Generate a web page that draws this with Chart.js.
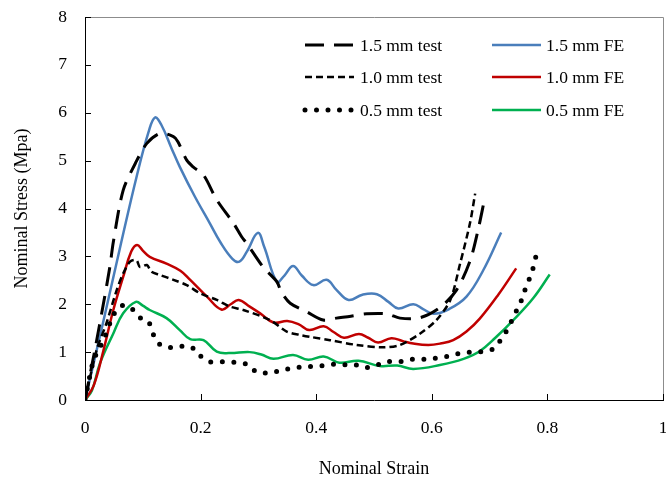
<!DOCTYPE html>
<html>
<head>
<meta charset="utf-8">
<title>Nominal stress vs nominal strain</title>
<script src="https://cdn.jsdelivr.net/npm/chart.js@4.4.1/dist/chart.umd.min.js"></script>
<style>
  html, body { margin: 0; padding: 0; background: #fff; }
  #wrap { width: 666px; height: 490px; }
</style>
</head>
<body>
<div id="wrap"><canvas id="stressChart" width="666" height="490"></canvas></div>
<script>
// measured curves (strain / stress pairs)
const test15Strain = [0, 0.017, 0.032, 0.043, 0.049, 0.066, 0.087, 0.107, 0.13, 0.153, 0.161, 0.176, 0.187, 0.205, 0.228, 0.257, 0.271, 0.28, 0.308, 0.332, 0.34, 0.355, 0.384, 0.412, 0.435, 0.46, 0.487, 0.522, 0.545, 0.58, 0.614, 0.643, 0.666, 0.68, 0.691];
const test15Stress = [0, 1.04, 2.02, 2.78, 3.3, 4.38, 4.94, 5.36, 5.57, 5.5, 5.39, 5.01, 4.87, 4.7, 4.18, 3.69, 3.41, 3.27, 2.78, 2.47, 2.25, 2.02, 1.84, 1.67, 1.71, 1.75, 1.8, 1.8, 1.71, 1.72, 1.93, 2.3, 2.9, 3.55, 4.18];

const test10Strain = [0, 0.02, 0.037, 0.055, 0.066, 0.078, 0.089, 0.095, 0.107, 0.115, 0.13, 0.153, 0.176, 0.199, 0.228, 0.251, 0.274, 0.32, 0.349, 0.372, 0.389, 0.424, 0.47, 0.516, 0.545, 0.58, 0.608, 0.632, 0.649, 0.666, 0.675];
const test10Stress = [0, 1.04, 1.6, 2.3, 2.64, 2.89, 2.92, 2.78, 2.82, 2.68, 2.61, 2.51, 2.4, 2.23, 2.09, 1.95, 1.88, 1.67, 1.43, 1.36, 1.32, 1.25, 1.15, 1.1, 1.15, 1.39, 1.67, 2.09, 2.85, 3.69, 4.31];

const test05Strain = [0, 0.014, 0.023, 0.032, 0.049, 0.061, 0.072, 0.087, 0.098, 0.11, 0.117, 0.124, 0.138, 0.157, 0.176, 0.192, 0.198, 0.213, 0.227, 0.245, 0.265, 0.284, 0.294, 0.308, 0.323, 0.34, 0.36, 0.381, 0.401, 0.418, 0.435, 0.454, 0.47, 0.487, 0.505, 0.522, 0.545, 0.565, 0.585, 0.603, 0.623, 0.642, 0.66, 0.678, 0.694, 0.709, 0.721, 0.732, 0.741, 0.75, 0.758, 0.764, 0.773, 0.777, 0.783];
const test05Stress = [0, 0.8, 1.04, 1.25, 1.77, 1.95, 1.98, 1.84, 1.69, 1.63, 1.41, 1.22, 1.11, 1.1, 1.13, 1.04, 0.94, 0.81, 0.79, 0.8, 0.78, 0.73, 0.61, 0.57, 0.56, 0.63, 0.66, 0.7, 0.7, 0.73, 0.75, 0.73, 0.73, 0.68, 0.73, 0.8, 0.8, 0.85, 0.85, 0.87, 0.9, 0.96, 0.99, 1.01, 1.01, 1.09, 1.29, 1.5, 1.73, 1.95, 2.17, 2.41, 2.64, 2.87, 3.1];

// finite element curves
const fe15Strain = [0, 0.03, 0.06, 0.09, 0.11, 0.121, 0.132, 0.15, 0.164, 0.19, 0.216, 0.234, 0.255, 0.267, 0.28, 0.299, 0.31, 0.332, 0.345, 0.36, 0.375, 0.395, 0.418, 0.435, 0.456, 0.48, 0.505, 0.525, 0.542, 0.568, 0.585, 0.603, 0.63, 0.66, 0.689, 0.72];
const fe15Stress = [0, 1.55, 3.15, 4.7, 5.6, 5.9, 5.75, 5.25, 4.87, 4.25, 3.69, 3.3, 2.95, 2.89, 3.1, 3.49, 3.2, 2.47, 2.6, 2.8, 2.6, 2.4, 2.51, 2.3, 2.09, 2.2, 2.21, 2.05, 1.91, 2.0, 1.9, 1.8, 1.9, 2.16, 2.71, 3.5];

const fe10Strain = [0, 0.015, 0.032, 0.049, 0.066, 0.08, 0.09, 0.1, 0.112, 0.141, 0.165, 0.182, 0.211, 0.236, 0.252, 0.266, 0.285, 0.303, 0.326, 0.35, 0.37, 0.388, 0.413, 0.43, 0.448, 0.474, 0.49, 0.507, 0.53, 0.55, 0.568, 0.594, 0.615, 0.637, 0.66, 0.683, 0.715, 0.746];
const fe10Stress = [0, 0.3, 1.04, 1.88, 2.57, 3.1, 3.24, 3.12, 2.99, 2.85, 2.7, 2.51, 2.16, 1.89, 2.0, 2.09, 1.95, 1.81, 1.62, 1.65, 1.58, 1.46, 1.54, 1.42, 1.3, 1.38, 1.3, 1.2, 1.29, 1.23, 1.18, 1.15, 1.18, 1.25, 1.43, 1.7, 2.2, 2.75];

const fe05Strain = [0, 0.012, 0.026, 0.049, 0.066, 0.088, 0.1, 0.112, 0.141, 0.164, 0.182, 0.205, 0.228, 0.25, 0.285, 0.305, 0.326, 0.36, 0.386, 0.413, 0.44, 0.473, 0.51, 0.54, 0.568, 0.614, 0.655, 0.683, 0.71, 0.741, 0.775, 0.804];
const fe05Stress = [0, 0.2, 0.77, 1.39, 1.81, 2.05, 1.97, 1.88, 1.71, 1.46, 1.27, 1.25, 1.01, 0.98, 1.0, 0.95, 0.86, 0.94, 0.84, 0.91, 0.78, 0.82, 0.71, 0.72, 0.65, 0.73, 0.86, 1.02, 1.3, 1.67, 2.12, 2.62];

const seriesLabels = ['1.5 mm test', '1.0 mm test', '0.5 mm test', '1.5 mm FE', '1.0 mm FE', '0.5 mm FE'];

const xTicks = [0, 0.2, 0.4, 0.6, 0.8, 1];
const yTicks = [0, 1, 2, 3, 4, 5, 6, 7, 8];

const serif = '"Liberation Serif", "Times New Roman", serif';

function pairs(xs, ys) {
    return xs.map((x, i) => ({ x: x, y: ys[i] }));
}

function line(label, xs, ys, style) {
    return Object.assign({
        label: label,
        data: pairs(xs, ys),
        showLine: true,
        pointRadius: 0,
        pointHoverRadius: 0,
        fill: false,
        tension: 0.4,
        borderColor: '#000',
        backgroundColor: '#000'
    }, style);
}

const datasets = [
    line(seriesLabels[0], test15Strain, test15Stress, { borderWidth: 3, borderDash: [19, 10], tension: 0.3 }),
    line(seriesLabels[1], test10Strain, test10Stress, { borderWidth: 2.5, borderDash: [7, 4], tension: 0.3 }),
    line(seriesLabels[2], test05Strain, test05Stress, { borderWidth: 5, borderDash: [0, 11.5], borderCapStyle: 'round', tension: 0.3 }),
    line(seriesLabels[3], fe15Strain, fe15Stress, { borderWidth: 2.5, borderColor: '#4a7ebb' }),
    line(seriesLabels[4], fe10Strain, fe10Stress, { borderWidth: 2.5, borderColor: '#c00000' }),
    line(seriesLabels[5], fe05Strain, fe05Stress, { borderWidth: 2.5, borderColor: '#00b050' })
];

// gray frame on top/right and inward tick marks
const framePlugin = {
    id: 'frame',
    afterDatasetsDraw(chart) {
        const { ctx, chartArea: a, scales } = chart;
        ctx.save();
        ctx.strokeStyle = '#8c8c8c';
        ctx.lineWidth = 1;
        ctx.beginPath();
        ctx.moveTo(a.left, a.top + 0.5);
        ctx.lineTo(a.right + 0.5, a.top + 0.5);
        ctx.lineTo(a.right + 0.5, a.bottom);
        ctx.stroke();

        ctx.strokeStyle = '#000';
        ctx.beginPath();
        xTicks.forEach(v => {
            const px = Math.round(scales.x.getPixelForValue(v)) + 0.5;
            ctx.moveTo(px, a.bottom);
            ctx.lineTo(px, a.bottom - 6);
        });
        yTicks.forEach(v => {
            const py = Math.round(scales.y.getPixelForValue(v)) + 0.5;
            ctx.moveTo(a.left, py);
            ctx.lineTo(a.left + 6, py);
        });
        ctx.stroke();
        ctx.restore();
    }
};

// two-column legend inside the plot
const legendPlugin = {
    id: 'innerLegend',
    afterDraw(chart) {
        const { ctx } = chart;
        const cols = [{ x0: 305, x1: 354, tx: 360 }, { x0: 492, x1: 541, tx: 546 }];
        const rows = [45, 77, 110];
        ctx.save();
        chart.data.datasets.forEach((ds, i) => {
            const c = cols[i < 3 ? 0 : 1];
            const y = rows[i % 3];
            ctx.strokeStyle = ds.borderColor;
            ctx.lineWidth = ds.borderWidth;
            ctx.lineCap = ds.borderCapStyle || 'butt';
            ctx.setLineDash(ds.borderDash || []);
            ctx.beginPath();
            ctx.moveTo(c.x0, y);
            ctx.lineTo(c.x1, y);
            ctx.stroke();
            ctx.setLineDash([]);
            ctx.fillStyle = '#000';
            ctx.font = '17.5px ' + serif;
            ctx.textBaseline = 'middle';
            ctx.textAlign = 'left';
            ctx.fillText(ds.label, c.tx, y + 1);
        });
        ctx.restore();
    }
};

new Chart(document.getElementById('stressChart'), {
    type: 'scatter',
    data: { datasets: datasets },
    options: {
        responsive: false,
        devicePixelRatio: 1,
        animation: false,
        layout: { padding: { top: 17, right: 3, left: 0, bottom: 0 } },
        plugins: {
            legend: { display: false },
            tooltip: { enabled: false }
        },
        scales: {
            x: {
                type: 'linear',
                min: 0,
                max: 1,
                afterFit(scale) {
                    scale.height = 90;
                    // the end labels may hang past the plot edge
                    scale.paddingLeft = 0;
                    scale.paddingRight = 0;
                },
                afterBuildTicks(scale) { scale.ticks = xTicks.map(v => ({ value: v })); },
                grid: { display: false, drawTicks: false },
                border: { display: true, color: '#000', width: 1 },
                ticks: {
                    padding: 18,
                    color: '#000',
                    font: { family: serif, size: 17.5 },
                    callback: v => String(v)
                },
                title: {
                    display: true,
                    text: 'Nominal Strain',
                    color: '#000',
                    font: { family: serif, size: 18 },
                    padding: { top: 0, bottom: 10 }
                }
            },
            y: {
                type: 'linear',
                min: 0,
                max: 8,
                afterFit(scale) {
                    scale.width = 85;
                    scale.paddingTop = 0;
                    scale.paddingBottom = 0;
                },
                afterBuildTicks(scale) { scale.ticks = yTicks.map(v => ({ value: v })); },
                grid: { display: false, drawTicks: false },
                border: { display: true, color: '#000', width: 1 },
                ticks: {
                    padding: 18,
                    color: '#000',
                    font: { family: serif, size: 17.5 },
                    callback: v => String(v)
                },
                title: {
                    display: true,
                    text: 'Nominal Stress (Mpa)',
                    color: '#000',
                    font: { family: serif, size: 18 },
                    padding: { top: 11, bottom: 0 }
                }
            }
        }
    },
    plugins: [framePlugin, legendPlugin]
});
</script>
</body>
</html>
